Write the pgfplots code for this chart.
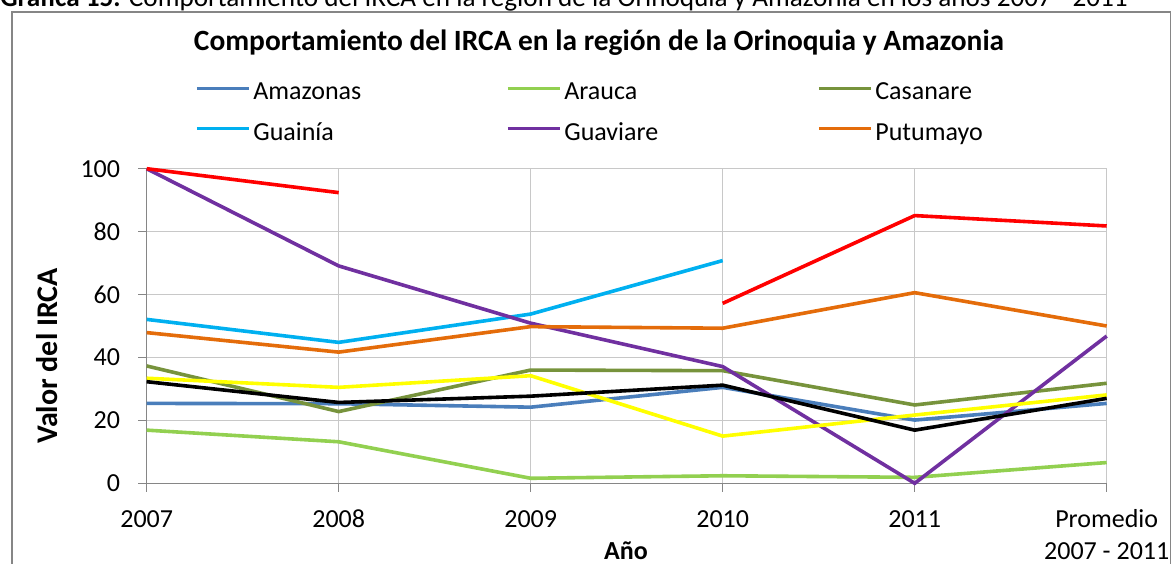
\documentclass[border=0pt]{standalone}
\usepackage{pgfplots}
\usepackage{pgfplotstable}
\pgfplotsset{compat=1.18}
\usepackage{fontspec}
\setmainfont{Carlito}
\definecolor{camaz}{HTML}{4A7EBB}
\definecolor{carau}{HTML}{92D050}
\definecolor{ccasa}{HTML}{77933C}
\definecolor{cguai}{HTML}{00B0F0}
\definecolor{cguav}{HTML}{7030A0}
\definecolor{cputu}{HTML}{E46C0A}
\definecolor{cyel}{HTML}{FFFF00}
\definecolor{gridgray}{HTML}{C8C8C8}
\definecolor{axgray}{HTML}{868686}
\definecolor{bordergray}{HTML}{868686}
\pgfplotstableread{
x amaz arau casa guai guav putu red yel blk
0 25.4 16.9 37.3 52.1 100 47.9 100 33.4 32.3
1 25.3 13.2 22.8 44.8 69.1 41.7 92.4 30.5 25.7
2 24.2 1.6 36.0 53.8 50.9 49.8 nan 34.2 27.7
3 30.5 2.4 35.8 70.8 37.1 49.3 57.2 15.0 31.2
4 20.1 1.9 24.9 nan 0 60.6 85.1 21.7 16.9
5 25.4 6.6 31.8 nan 46.8 50.0 81.8 28.1 27.0
}\data
\newcommand{\fs}{\fontsize{13}{15.6}\selectfont}
\newcommand{\legent}[1]{\makebox[125pt][l]{\strut #1}}
\begin{document}
\begin{tikzpicture}
\node[anchor=base west, inner sep=0pt, font=\fontsize{13.6}{16}\selectfont] at (0pt,-3pt) {\textbf{Gráfica 15.} Comportamiento del IRCA en la región de la Orinoquia y Amazonia en los años 2007 - 2011};
\draw[color=bordergray, line width=0.6pt] (6pt,-6pt) rectangle (585.4pt,-300pt);
\node[anchor=base, font=\bfseries\fontsize{14.7}{17}\selectfont] at (299.5pt,-25pt) {Comportamiento del IRCA en la región de la Orinoquia y Amazonia};
\node[rotate=90, anchor=base, font=\bfseries\fontsize{15}{18}\selectfont] at (28.7pt,-178pt) {Valor del IRCA};
\node[anchor=base, font=\bfseries\fs] at (313pt,-279.5pt) {Año};
\begin{axis}[
  at={(73.35pt,-241.65pt)}, anchor=south west,
  scale only axis, width=480pt, height=157.3pt,
  xmin=0, xmax=5, ymin=0, ymax=100,
  xtick={0,...,5},
  xticklabels={2007,2008,2009,2010,2011,{\begin{tabular}[t]{@{}c@{}}Promedio\\2007 - 2011\end{tabular}}},
  ytick={0,20,...,100},
  grid=major, major grid style={color=gridgray, line width=0.5pt},
  axis x line*=bottom, axis y line*=left,
  axis line style={color=axgray, line width=0.7pt},
  tick align=outside, major tick length=4.3pt,
  tick style={color=axgray, line width=0.6pt},
  tick label style={font=\fs},
  /pgf/number format/assume math mode=true,
  x tick label style={anchor=base, yshift=-18pt},
  y tick label style={xshift=-5.5pt},
  unbounded coords=jump, clip=false,
  every axis plot/.append style={line width=1.8pt, no marks},
  legend image code/.code={\draw[#1, line width=1.5pt] (0pt,0.9pt) -- (26pt,0.9pt);},
  legend style={at={(0.0503,1.301)}, anchor=north west, draw=none, fill=none,
    legend columns=3, inner sep=0pt, row sep=5pt, column sep=0pt,
    nodes={inner sep=1.5pt, font=\fs}},
]
\addplot[color=camaz] table[x=x, y=amaz] {\data};
\addlegendentry{\legent{Amazonas}}
\addplot[color=carau] table[x=x, y=arau] {\data};
\addlegendentry{\legent{Arauca}}
\addplot[color=ccasa] table[x=x, y=casa] {\data};
\addlegendentry{\legent{Casanare}}
\addplot[color=cguai] table[x=x, y=guai] {\data};
\addlegendentry{\legent{Guainía}}
\addplot[color=cguav] table[x=x, y=guav] {\data};
\addlegendentry{\legent{Guaviare}}
\addplot[color=cputu] table[x=x, y=putu] {\data};
\addlegendentry{\legent{Putumayo}}
\addplot[color=red, forget plot] table[x=x, y=red] {\data};
\addplot[color=cyel, forget plot] table[x=x, y=yel] {\data};
\addplot[color=black, forget plot] table[x=x, y=blk] {\data};
\end{axis}
\pgfresetboundingbox
\useasboundingbox (0pt,0pt) rectangle (586pt,-281.5pt);
\end{tikzpicture}
\end{document}
